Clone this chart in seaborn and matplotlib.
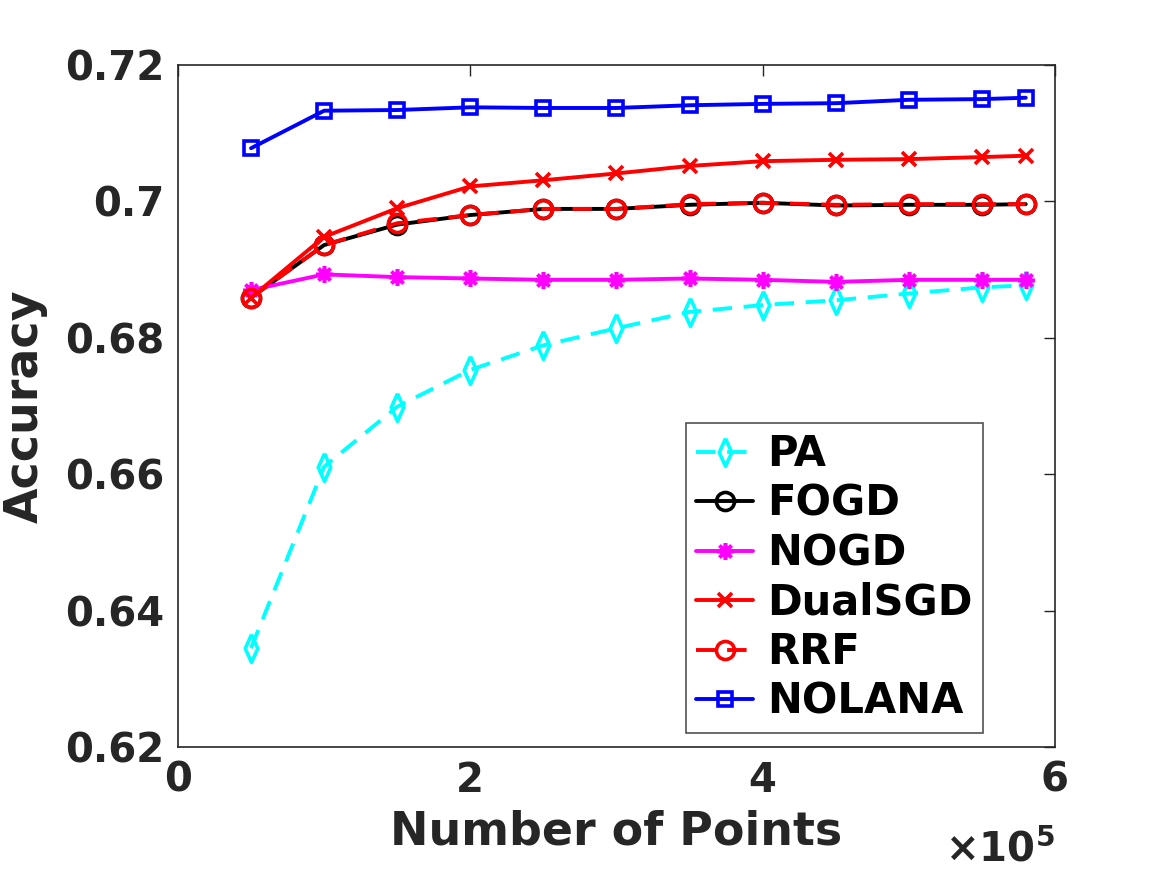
import numpy as np
import pandas as pd
import seaborn as sns
from matplotlib import pyplot as plt

# number of points (x 1e5)
n_points = [0.5, 1.0, 1.5, 2.0, 2.5, 3.0, 3.5, 4.0, 4.5, 5.0, 5.5, 5.8]

pa = [0.6345, 0.6611, 0.6699, 0.6753, 0.6789, 0.6814, 0.6838, 0.6848, 0.6855, 0.6865, 0.6874, 0.6877]
fogd = [0.6859, 0.6936, 0.6966, 0.6980, 0.6989, 0.6989, 0.6995, 0.6998, 0.6994, 0.6995, 0.6995, 0.6996]
nogd = [0.6870, 0.6893, 0.6889, 0.6887, 0.6885, 0.6885, 0.6887, 0.6885, 0.6882, 0.6885, 0.6885, 0.6885]
dualsgd = [0.6859, 0.6948, 0.6990, 0.7022, 0.7031, 0.7041, 0.7052, 0.7059, 0.7061, 0.7062, 0.7065, 0.7067]
rrf = [0.6859, 0.6936, 0.6968, 0.6980, 0.6989, 0.6989, 0.6996, 0.6998, 0.6995, 0.6996, 0.6996, 0.6996]
nolana = [0.7078, 0.7133, 0.7134, 0.7138, 0.7137, 0.7137, 0.7141, 0.7143, 0.7144, 0.7149, 0.7150, 0.7152]

methods = ['PA', 'FOGD', 'NOGD', 'DualSGD', 'RRF', 'NOLANA']
series = [pa, fogd, nogd, dualsgd, rrf, nolana]

# tall narrow diamond like matlab's 'd'
diamond = [(0, 1), (0.45, 0), (0, -1), (-0.45, 0), (0, 1)]

styles = {
    'PA': dict(color='#00FFFF', marker=diamond, ls=(0, (5, 3)), ms=20),
    'FOGD': dict(color='black', marker='o', ls='-', ms=13),
    'NOGD': dict(color='#FF00FF', marker=(8, 2, 0), ls='-', ms=12),
    'DualSGD': dict(color='#FF0000', marker='x', ls='-', ms=10),
    'RRF': dict(color='#FF0000', marker='o', ls=(0, (5, 3)), ms=13),
    'NOLANA': dict(color='#0000FF', marker='s', ls='-', ms=10),
}


def plot_accuracy():
    sns.set_theme(style='white')
    plt.rcParams['font.family'] = ['DejaVu Sans']
    plt.rcParams['font.weight'] = 'bold'

    frames = []
    for m, vals in zip(methods, series):
        frames.append(pd.DataFrame({'Number of Points': n_points, 'Accuracy': vals, 'Method': m}))
    df = pd.concat(frames).reset_index(drop=True)

    fig = plt.figure(figsize=(11.67, 8.75), dpi=100)
    ax = fig.add_axes([0.1525, 0.1463, 0.904 - 0.1525, 0.9257 - 0.1463])

    for m in methods:
        st = styles[m]
        sns.lineplot(data=df[df['Method'] == m], x='Number of Points', y='Accuracy',
                     ax=ax, color=st['color'], linestyle=st['ls'], linewidth=2.8,
                     marker=st['marker'], markersize=st['ms'], markerfacecolor='none',
                     markeredgecolor=st['color'], markeredgewidth=2.6, label=m)

    ax.set_xlim(0, 6)
    ax.set_ylim(0.62, 0.72)
    ax.set_xticks([0, 2, 4, 6])
    ax.set_xticklabels(['0', '2', '4', '6'])
    yt = [0.62, 0.64, 0.66, 0.68, 0.70, 0.72]
    ax.set_yticks(yt)
    ax.set_yticklabels(['0.62', '0.64', '0.66', '0.68', '0.7', '0.72'])
    ax.tick_params(direction='in', length=8, width=1, top=True, right=True,
                   labelsize=29, colors='#262626', pad=10)
    for lab in ax.get_xticklabels() + ax.get_yticklabels():
        lab.set_fontweight('bold')
    for sp in ax.spines.values():
        sp.set_visible(True)
        sp.set_color('#262626')
        sp.set_linewidth(1.2)

    ax.set_xlabel('Number of Points', fontsize=33, fontweight='bold', color='#262626', labelpad=6)
    ax.set_ylabel('Accuracy', fontsize=33, fontweight='bold', color='#262626', labelpad=12)
    ax.text(1.0, -0.152, r'$\times$10$^{5}$', transform=ax.transAxes, ha='right', va='center',
            fontsize=29, fontweight='bold', color='#262626')

    leg = ax.legend(loc='lower right', bbox_to_anchor=(0.918, 0.0205), fontsize=30,
                    frameon=True, fancybox=False, edgecolor='#262626', handlelength=1.35,
                    handletextpad=0.35, borderpad=0.25, labelspacing=0.18, borderaxespad=0)
    leg.get_frame().set_linewidth(1.2)
    for t in leg.get_texts():
        t.set_fontweight('bold')
        t.set_color('black')

    plt.savefig('out.png', dpi=100)


if __name__ == '__main__':
    plot_accuracy()
